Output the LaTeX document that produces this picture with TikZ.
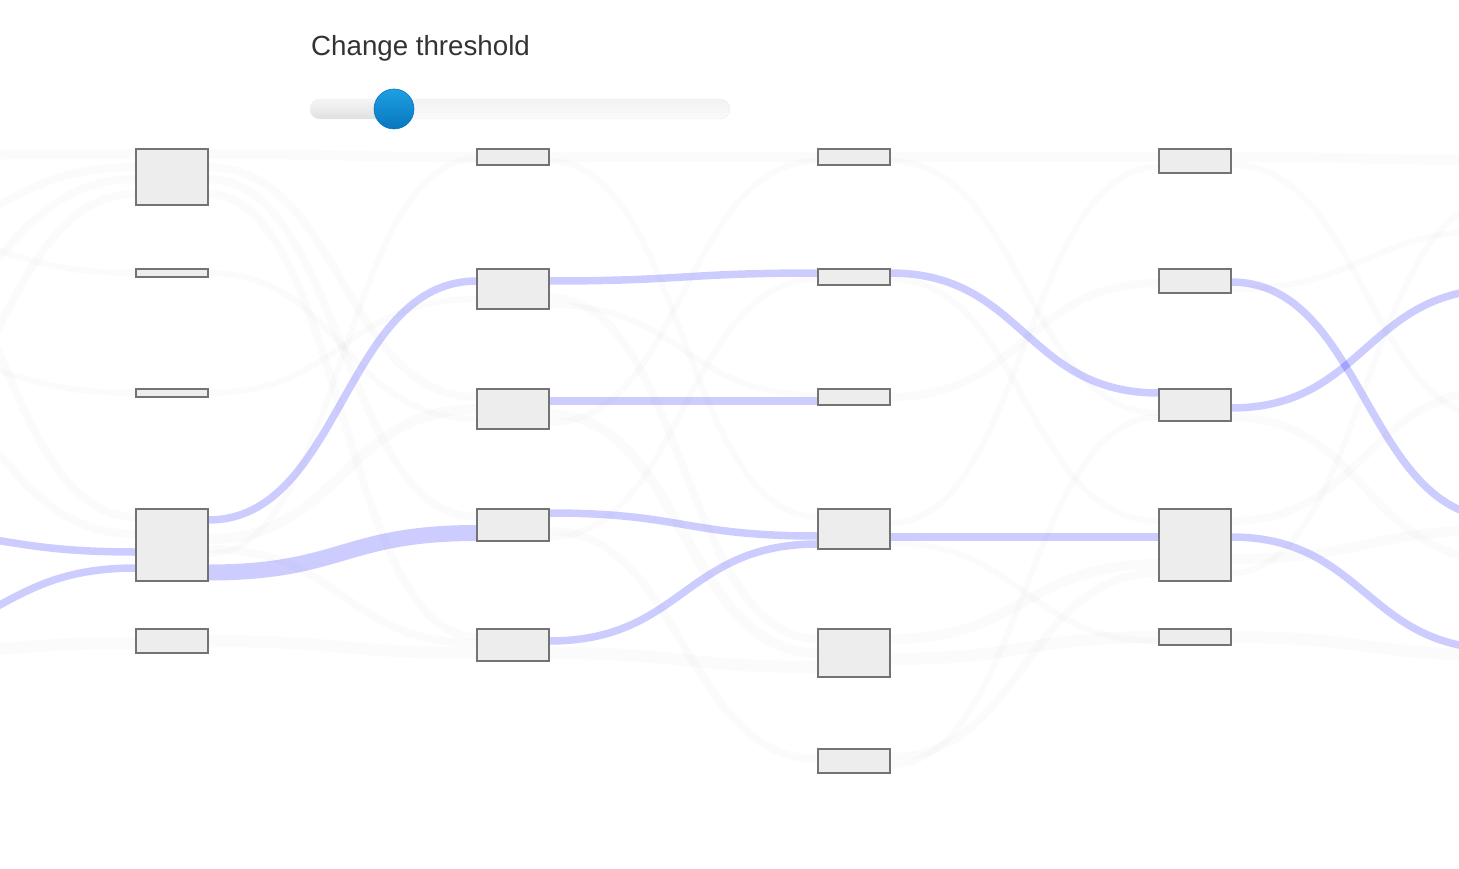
\documentclass[tikz,border=0pt]{standalone}
\usepackage{fontspec}
\setmainfont{Liberation Sans}
\usetikzlibrary{backgrounds}

\definecolor{knobtop}{RGB}{30,160,226}
\definecolor{knobbot}{RGB}{8,118,190}
\definecolor{labelgray}{RGB}{51,51,51}

\newcommand{\ribbon}[5][]{\draw[#1] ([yshift=-#3pt]#2) .. controls +(134,0) and +(-134,0) .. ([yshift=-#5pt]#4);}

\begin{document}
\begin{tikzpicture}[x=1pt, y=-1pt,
    bar/.style={rectangle, draw=black!55, fill=black!7, line width=1.6pt, minimum width=72pt, inner sep=0pt, outer sep=0pt, anchor=north west},
    hot/.style={draw=blue, opacity=0.2, line width=#1pt},
    hot/.default=7.5,
    cold/.style={draw=black, opacity=0.015, line width=#1pt},
    cold/.default=8
]
\useasboundingbox (0,0) rectangle (1459,869);

% slider
\node[anchor=base west, text=labelgray, font=\fontsize{27.7}{33}\selectfont, inner sep=0pt] (title) at (311,56) {Change threshold};
\shade[top color=black!5, bottom color=black!2, draw=black!7, rounded corners=10pt] (310,99) rectangle (730,119);
\shade[top color=black!4, bottom color=black!12, rounded corners=10pt] (310,99) rectangle (400,119);
\node[circle, minimum size=40pt, inner sep=0pt, top color=knobtop, bottom color=knobbot, draw=knobbot, line width=0.6pt] (knob) at (394,109) {};

% nodes
\foreach \n/\x/\y/\h in {A1/136/149/56, A2/136/269/8, A3/136/389/8, A4/136/509/72, A5/136/629/24,
    B1/477/149/16, B2/477/269/40, B3/477/389/40, B4/477/509/32, B5/477/629/32,
    C1/818/149/16, C2/818/269/16, C3/818/389/16, C4/818/509/40, C5/818/629/48, C6/818/749/24,
    D1/1159/149/24, D2/1159/269/24, D3/1159/389/32, D4/1159/509/72, D5/1159/629/16}
  \node[bar, minimum height=\h pt] (\n) at (\x,\y) {};

\foreach \n/\y in {l1/155, l2/240, l3/330, l4/450, l5/230, l6/350, l7/200, l8/380, l9/655, in1/530, in2/640}
  \coordinate (\n) at (-133,\y);
\foreach \n/\y in {r1/160, r2/420, r3/230, r4/560, r5/390, r6/530, r7/655, r8/200, out1/518, out2/289, out3/649}
  \coordinate (\n) at (1500,\y);

\begin{scope}[on background layer]
\clip (0,0) rectangle (1459,869);
% faint flows
\ribbon[cold=10]{l1}{0}{A1.north west}{5}
\ribbon[cold]{l2}{0}{A1.north west}{18}
\ribbon[cold]{l3}{0}{A1.north west}{30}
\ribbon[cold]{l4}{0}{A1.north west}{45}
\ribbon[cold=6]{l5}{0}{A2.north west}{4}
\ribbon[cold=6]{l6}{0}{A3.north west}{4}
\ribbon[cold]{l7}{0}{A4.north west}{8}
\ribbon[cold]{l8}{0}{A4.north west}{25}
\ribbon[cold=12]{l9}{0}{A5.north west}{14}
\ribbon[cold=10]{A1.north east}{5}{B1.north west}{8}
\ribbon[cold]{A1.north east}{18}{B3.north west}{8}
\ribbon[cold]{A1.north east}{30}{B4.north west}{8}
\ribbon[cold]{A1.north east}{45}{B5.north west}{8}
\ribbon[cold=6]{A2.north east}{4}{B3.north west}{30}
\ribbon[cold=6]{A3.north east}{4}{B2.north west}{30}
\ribbon[cold=10]{A4.north east}{30}{B3.north west}{20}
\ribbon[cold=6]{A4.north east}{45}{B1.north west}{10}
\ribbon[cold]{A4.north east}{40}{B5.north west}{14}
\ribbon[cold=12]{A5.north east}{12}{B5.north west}{24}
\ribbon[cold=10]{B1.north east}{8}{C1.north west}{8}
\ribbon[cold=6]{B1.north east}{12}{C4.north west}{8}
\ribbon[cold]{B2.north east}{28}{C5.north west}{10}
\ribbon[cold=6]{B2.north east}{36}{C3.north west}{6}
\ribbon[cold=10]{B3.north east}{25}{C5.north west}{24}
\ribbon[cold=6]{B3.north east}{34}{C1.north west}{12}
\ribbon[cold]{B4.north east}{22}{C6.north west}{10}
\ribbon[cold=6]{B4.north east}{28}{C2.north west}{10}
\ribbon[cold=12]{B5.north east}{24}{C5.north west}{38}
\ribbon[cold=10]{C1.north east}{8}{D1.north west}{8}
\ribbon[cold=6]{C1.north east}{12}{D3.north west}{24}
\ribbon[cold]{C3.north east}{8}{D2.north west}{14}
\ribbon[cold=6]{C4.north east}{14}{D1.north west}{18}
\ribbon[cold=6]{C2.north east}{10}{D4.north west}{12}
\ribbon[cold=10]{C5.north east}{10}{D4.north west}{55}
\ribbon[cold=12]{C5.north east}{30}{D5.north west}{8}
\ribbon[cold]{C6.north east}{8}{D4.north west}{64}
\ribbon[cold=6]{C6.north east}{16}{D3.north west}{28}
\ribbon[cold=6]{C4.north east}{34}{D5.north west}{12}
\ribbon[cold=10]{D1.north east}{8}{r1}{0}
\ribbon[cold=6]{D1.north east}{16}{r2}{0}
\ribbon[cold=6]{D2.north east}{20}{r3}{0}
\ribbon[cold]{D3.north east}{28}{r4}{0}
\ribbon[cold]{D4.north east}{12}{r5}{0}
\ribbon[cold=10]{D4.north east}{50}{r6}{0}
\ribbon[cold=12]{D5.north east}{8}{r7}{0}
\ribbon[cold=6]{D4.north east}{64}{r8}{0}
% highlighted flows
\ribbon[hot]{in1}{0}{A4.north west}{43}
\ribbon[hot]{in2}{0}{A4.north west}{59}
\ribbon[hot]{A4.north east}{11}{B2.north west}{12}
\ribbon[hot=16]{A4.north east}{63.5}{B4.north west}{24}
\ribbon[hot]{B2.north east}{12}{C2.north west}{4}
\ribbon[hot]{B3.north east}{12}{C3.north west}{12}
\ribbon[hot]{B4.north east}{4}{C4.north west}{27}
\ribbon[hot]{B5.north east}{12}{C4.north west}{35}
\ribbon[hot]{C2.north east}{4}{D3.north west}{4}
\ribbon[hot]{C4.north east}{28}{D4.north west}{28}
\ribbon[hot]{D2.north east}{13}{out1}{0}
\ribbon[hot]{D3.north east}{19}{out2}{0}
\ribbon[hot]{D4.north east}{28}{out3}{0}
\end{scope}
\end{tikzpicture}
\end{document}
